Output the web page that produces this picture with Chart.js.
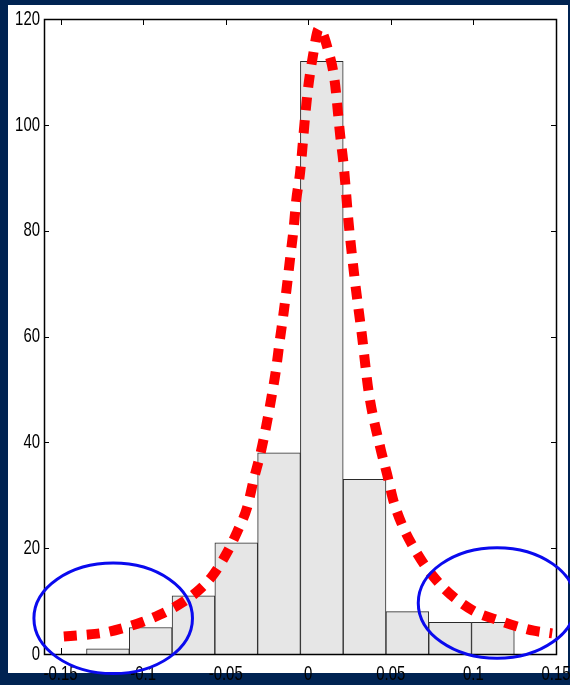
<!DOCTYPE html>
<html>
<head>
<meta charset="utf-8">
<script src="https://cdn.jsdelivr.net/npm/chart.js@4.4.1/dist/chart.umd.min.js"></script>
<style>
  html, body { margin: 0; padding: 0; background: #002352; }
  #wrap { width: 570px; height: 685px; }
</style>
</head>
<body>
<div id="wrap"><canvas id="hist" width="570" height="685"></canvas></div>
<script>
/* histogram bins (centres) and counts */
var binCenters = [-0.1213, -0.0954, -0.0695, -0.0436, -0.0177, 0.0082, 0.0341, 0.0600, 0.0859, 0.1118];
var binCounts  = [1, 5, 11, 21, 38, 112, 33, 8, 6, 6];

/* fitted curve */
var fitX = [-0.148, -0.136, -0.124, -0.112, -0.101, -0.090, -0.078, -0.068, -0.058, -0.050,
            -0.043, -0.037, -0.033, -0.029, -0.0255, -0.0224, -0.0196, -0.0174, -0.015, -0.0129,
            -0.0109, -0.0089, -0.0073, -0.0049, -0.0018, 0.0, 0.0026, 0.0065, 0.0123, 0.0159,
            0.0194, 0.0214, 0.0244, 0.0281, 0.0325, 0.0365, 0.0436, 0.0477, 0.0517, 0.0574,
            0.0644, 0.0723, 0.0816, 0.0915, 0.1022, 0.1139, 0.1255, 0.1365, 0.1477];
var fitY = [3.3, 3.6, 4.0, 4.9, 6.0, 7.4, 9.4, 11.6, 14.8, 18.7,
            23.1, 27.7, 33.0, 37.8, 43.0, 48.3, 53.6, 58.9, 64.3, 69.6,
            75.0, 80.3, 85.7, 91.1, 101.9, 107.2, 112.6, 118.2, 113.8, 108.5,
            97.8, 92.5, 81.6, 70.9, 60.2, 49.7, 39.0, 34.0, 28.8, 24.0,
            19.8, 16.0, 12.6, 9.9, 7.8, 6.5, 5.3, 4.4, 3.9];

var xTicks = [-0.15, -0.1, -0.05, 0, 0.05, 0.1, 0.15];
var xTickLabels = ['-0.15', '-0.1', '-0.05', '0', '0.05', '0.1', '0.15'];
var yTicks = [0, 20, 40, 60, 80, 100, 120];
var yTickLabels = ['0', '20', '40', '60', '80', '100', '120'];

/* blue ellipses marking the tails, in data units */
var tailMarks = [
  { x: -0.1181, y: 6.75, rx: 0.048, ry: 10.45 },
  { x: 0.1143, y: 9.64, rx: 0.0477, ry: 10.45 }
];

var tickFont = { family: "'Liberation Sans', Arial, sans-serif", size: 21 };

/* white panel, narrow tick text, axes box with inward ticks, ellipses on top */
var framePlugin = {
  id: 'frame',
  beforeDraw: function(chart) {
    var c = chart.ctx;
    c.save();
    c.fillStyle = '#ffffff';
    c.fillRect(8, 5, 560, 668);
    c.restore();
    // squeeze the axis text horizontally, like the narrow Helvetica of the original
    var orig = c.fillText;
    c._origFillText = orig;
    c.fillText = function(t, x, y) {
      this.save();
      this.translate(x, y);
      this.scale(0.71, 1);
      orig.call(this, t, 0, 0);
      this.restore();
    };
  },
  beforeDatasetsDraw: function(chart) {
    var c = chart.ctx, a = chart.chartArea;
    var xs = chart.scales.x, ys = chart.scales.y;
    c.save();
    c.strokeStyle = '#000';
    c.lineWidth = 1;
    c.beginPath();
    xTicks.forEach(function(v) {
      var px = Math.round(xs.getPixelForValue(v)) + 0.5;
      c.moveTo(px, a.bottom); c.lineTo(px, a.bottom - 6);
      c.moveTo(px, a.top); c.lineTo(px, a.top + 6);
    });
    yTicks.forEach(function(v) {
      var py = Math.round(ys.getPixelForValue(v)) + 0.5;
      c.moveTo(a.left, py); c.lineTo(a.left + 5, py);
      c.moveTo(a.right, py); c.lineTo(a.right - 5, py);
    });
    c.stroke();
    c.restore();
  },
  afterDatasetsDraw: function(chart) {
    var c = chart.ctx, a = chart.chartArea;
    c.save();
    c.strokeStyle = '#000';
    c.lineWidth = 1.5;
    c.strokeRect(Math.round(a.left) + 0.5, Math.round(a.top) + 0.5,
                 Math.round(a.right - a.left), Math.round(a.bottom - a.top));
    c.restore();
  },
  afterDraw: function(chart) {
    var c = chart.ctx;
    var xs = chart.scales.x, ys = chart.scales.y;
    if (c._origFillText) { c.fillText = c._origFillText; delete c._origFillText; }
    c.save();
    c.strokeStyle = '#0a0aee';
    c.lineWidth = 3;
    tailMarks.forEach(function(m) {
      var cx = xs.getPixelForValue(m.x), cy = ys.getPixelForValue(m.y);
      var rx = xs.getPixelForValue(m.x + m.rx) - cx;
      var ry = cy - ys.getPixelForValue(m.y + m.ry);
      c.beginPath();
      c.ellipse(cx, cy, rx, ry, 0, 0, Math.PI * 2);
      c.stroke();
    });
    c.restore();
  }
};

var ctx = document.getElementById('hist');
var chart = new Chart(ctx, {
  type: 'bar',
  data: {
    datasets: [
      {
        type: 'line',
        data: fitX.map(function(x, i) { return { x: x, y: fitY[i] }; }),
        borderColor: '#ff0000',
        borderWidth: 10,
        borderDash: [13, 10],
        borderCapStyle: 'butt',
        pointRadius: 0,
        fill: false,
        cubicInterpolationMode: 'monotone',
        order: 0
      },
      {
        type: 'bar',
        data: binCenters.map(function(x, i) { return { x: x, y: binCounts[i] }; }),
        backgroundColor: '#e6e6e6',
        borderColor: '#2a2a2a',
        borderWidth: 1,
        barPercentage: 1,
        categoryPercentage: 1,
        order: 1
      }
    ]
  },
  options: {
    responsive: false,
    animation: false,
    devicePixelRatio: 1,
    layout: { autoPadding: false, padding: { top: 19, right: 14, left: 0, bottom: 0 } },
    plugins: { legend: { display: false }, tooltip: { enabled: false } },
    scales: {
      x: {
        type: 'linear',
        min: -0.16,
        max: 0.15,
        offset: false,
        grid: { display: false, drawTicks: false },
        border: { display: false },
        afterBuildTicks: function(s) { s.ticks = xTicks.map(function(v) { return { value: v }; }); },
        afterFit: function(s) {
          s.height = 31;
          s.paddingLeft = 0; s.paddingRight = 0;
        },
        ticks: {
          autoSkip: false,
          maxRotation: 0,
          padding: 8,
          color: '#000',
          font: tickFont,
          callback: function(v, i) { return xTickLabels[i]; }
        }
      },
      y: {
        min: 0,
        max: 120,
        grid: { display: false, drawTicks: false },
        border: { display: false },
        afterBuildTicks: function(s) { s.ticks = yTicks.map(function(v) { return { value: v }; }); },
        afterFit: function(s) {
          s.width = 44;
          s.paddingTop = 0; s.paddingBottom = 0;
        },
        ticks: {
          padding: 4,
          color: '#000',
          font: tickFont,
          callback: function(v, i) { return yTickLabels[i]; }
        }
      }
    }
  },
  plugins: [framePlugin]
});
</script>
</body>
</html>
